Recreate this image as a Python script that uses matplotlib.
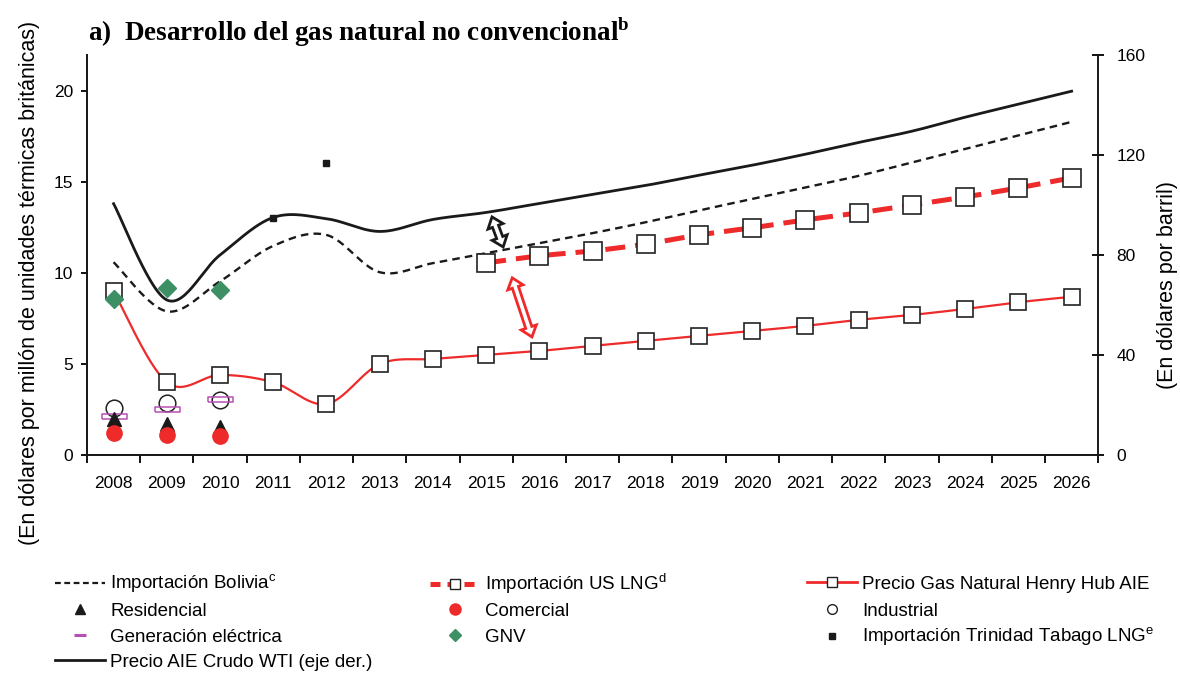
import numpy as np
import matplotlib
matplotlib.use('Agg')
import matplotlib.pyplot as plt
from matplotlib.lines import Line2D
from matplotlib.patches import Polygon
from matplotlib.transforms import IdentityTransform

plt.rcParams['font.family'] = ['Liberation Sans', 'DejaVu Sans']

years = list(range(2008, 2027))
henry_hub = [9.0, 4.0, 4.4, 4.0, 2.8, 5.0, 5.28, 5.5, 5.72, 6.0, 6.27, 6.55,
             6.82, 7.1, 7.43, 7.7, 8.03, 8.4, 8.7]
bolivia = [10.6, 7.9, 9.55, 11.5, 12.1, 10.05, 10.55, 11.1, 11.65, 12.2, 12.8,
           13.45, 14.08, 14.71, 15.35, 16.09, 16.83, 17.57, 18.32]
wti = [100.5, 62, 80, 95, 94.5, 89.4, 94.2, 97, 100.6, 104.2, 107.8, 111.9,
       115.9, 120.3, 125, 129.5, 135.1, 140.3, 145.5]   # eje derecho
lng_years = list(range(2015, 2027))
us_lng = [10.56, 10.95, 11.22, 11.6, 12.1, 12.49, 12.93, 13.31, 13.75, 14.19,
          14.69, 15.24]

sector_years = [2008, 2009, 2010]
residencial = [2.0, 1.7, 1.55]
comercial = [1.2, 1.1, 1.05]
industrial = [2.6, 2.85, 3.0]
generacion = [2.15, 2.5, 3.05]
gnv = [8.6, 9.2, 9.05]
trinidad_years = [2011, 2012]
trinidad = [13.05, 16.05]

RED = '#EE2A2A'
GREEN = '#3C9064'
MAGENTA = '#B94FB5'


def smooth(xs, ys, n=30):
    # curva suavizada tipo Excel (Catmull-Rom en forma Bezier)
    xs = np.asarray(xs, float)
    ys = np.asarray(ys, float)
    pts = np.column_stack([xs, ys])
    t = np.linspace(0, 1, n)[1:, None]
    out = [pts[0]]
    for i in range(len(pts) - 1):
        p0 = pts[max(i - 1, 0)]
        p1 = pts[i]
        p2 = pts[i + 1]
        p3 = pts[min(i + 2, len(pts) - 1)]
        c1 = p1 + (p2 - p0) / 6
        c2 = p2 - (p3 - p1) / 6
        seg = ((1 - t) ** 3) * p1 + 3 * ((1 - t) ** 2) * t * c1 + 3 * (1 - t) * t ** 2 * c2 + t ** 3 * p2
        out.extend(seg)
    out = np.array(out)
    return out[:, 0], out[:, 1]


def xpos(yrs):
    return np.array([years.index(y) for y in yrs])


fig = plt.figure(figsize=(11.8, 6.75), dpi=100)
ax = fig.add_axes([0.0737, 0.326, 0.857, 0.5926])
ax2 = ax.twinx()

idx = np.arange(len(years))

# Henry Hub
sx, sy = smooth(idx, henry_hub)
ax.plot(sx, sy, color=RED, lw=1.6, zorder=3)
ax.plot(idx, henry_hub, ls='none', marker='s', ms=11.5, mfc='white', mec='#222222',
        mew=1.2, zorder=4)

# Bolivia
sx, sy = smooth(idx, bolivia)
ax.plot(sx, sy, color='#1a1a1a', lw=1.7, dashes=(3.2, 2.2), zorder=3)

# US LNG
sx, sy = smooth(xpos(lng_years), us_lng)
ax.plot(sx, sy, color=RED, lw=3.6, dashes=(4, 2), zorder=3)
ax.plot(xpos(lng_years), us_lng, ls='none', marker='s', ms=12.5, mfc='white',
        mec='#222222', mew=1.2, zorder=4)

# WTI (eje der.)
sx, sy = smooth(idx, wti)
ax2.plot(sx, sy, color='#1a1a1a', lw=2.0, zorder=3)

# sectores
rect = [(-1, -0.2), (1, -0.2), (1, 0.2), (-1, 0.2), (-1, -0.2)]
sp = xpos(sector_years)
ax.plot(sp, industrial, ls='none', marker='o', ms=12, mfc='white', mec='#222222',
        mew=1.1, zorder=5)
ax.plot(sp, generacion, ls='none', marker=rect, ms=18, mfc='none', mec=MAGENTA,
        mew=1.1, zorder=6)
ax.plot(sp, residencial, ls='none', marker='^', ms=10, color='#1a1a1a', zorder=6)
ax.plot(sp, comercial, ls='none', marker='o', ms=11, color=RED, zorder=7)
ax.plot(sp, gnv, ls='none', marker='D', ms=9, color=GREEN, zorder=7)
ax.plot(xpos(trinidad_years), trinidad, ls='none', marker='s', ms=5,
        color='#1a1a1a', zorder=7)

# ejes
ax.set_xlim(-0.5, len(years) - 0.5)
ax.set_ylim(0, 22)
ax2.set_ylim(0, 160)
ax.set_yticks([0, 5, 10, 15, 20])
ax2.set_yticks([0, 40, 80, 120, 160])
ax.set_xticks(np.arange(-0.5, len(years), 1))
ax.set_xticklabels([])
ax.set_xticks(idx, minor=True)
ax.set_xticklabels([str(y) for y in years], minor=True)
ax.tick_params(axis='x', which='major', direction='out', length=6, width=1.3)
ax.tick_params(axis='x', which='minor', length=0, pad=15, labelsize=12.5)
ax.tick_params(axis='y', direction='out', length=4, width=1.3, pad=6, labelsize=12.5)
ax2.tick_params(axis='y', direction='inout', length=8, width=1.3, pad=9, labelsize=12.5)
for a in (ax, ax2):
    a.spines['top'].set_visible(False)
    for s in ('left', 'bottom', 'right'):
        a.spines[s].set_linewidth(1.4)
        a.spines[s].set_color('#1a1a1a')
ax.spines['right'].set_visible(False)

# flechas dobles huecas
def double_arrow(p_start, p_end, color):
    p0 = ax.transData.transform(p_start)
    p1 = ax.transData.transform(p_end)
    u = (p1 - p0) / np.hypot(*(p1 - p0))
    nrm = np.array([-u[1], u[0]])
    w, h, L = 3.2, 8.0, 10.0
    verts = [p0, p0 + u * L + nrm * h, p0 + u * L + nrm * w, p1 - u * L + nrm * w,
             p1 - u * L + nrm * h, p1, p1 - u * L - nrm * h, p1 - u * L - nrm * w,
             p0 + u * L - nrm * w, p0 + u * L - nrm * h]
    fig.patches.append(Polygon(verts, closed=True, facecolor='white', edgecolor=color,
                               lw=2.0, transform=IdentityTransform(), zorder=10))

double_arrow((7.11, 13.09), (7.32, 11.44), '#1a1a1a')
double_arrow((7.49, 9.74), (7.86, 6.49), RED)

# textos
fig.text(88 / 1180, 1 - 32 / 675, r'a)  Desarrollo del gas natural no convencional$^{\mathregular{b}}$',
         family='Liberation Serif', weight='bold', fontsize=19.5, va='center', ha='left')
fig.text(30 / 1180, 1 - 283 / 675, '(En dólares por millón de unidades térmicas británicas)',
         rotation=90, fontsize=15.5, ha='center', va='center')
fig.text(1168 / 1180, 1 - 285 / 675, '(En dólares por barril)', rotation=90,
         fontsize=15.5, ha='center', va='center')

# leyenda: cada entrada en su sitio (tres columnas)
entries = [
    (Line2D([], [], color='#1a1a1a', lw=1.6, dashes=(2.6, 1.6)),
     r'Importación Bolivia$^{\mathregular{c}}$', 55, 584),
    (Line2D([], [], ls='none', marker='^', ms=7, color='#1a1a1a'), 'Residencial', 55, 611),
    (Line2D([], [], ls='none', marker='_', ms=9, mew=2.2, color=MAGENTA),
     'Generación eléctrica', 55, 637),
    (Line2D([], [], color='#1a1a1a', lw=2.0), 'Precio AIE Crudo WTI (eje der.)', 55, 662),
    (Line2D([], [], color=RED, lw=3.6, dashes=(2, 1.4), marker='s', ms=7, mfc='white',
            mec='#222222', mew=1.0), r'Importación US LNG$^{\mathregular{d}}$', 430, 584),
    (Line2D([], [], ls='none', marker='o', ms=8, color=RED), 'Comercial', 430, 611),
    (Line2D([], [], ls='none', marker='D', ms=6, color=GREEN), 'GNV', 430, 637),
    (Line2D([], [], color=RED, lw=2.0, marker='s', ms=7, mfc='white', mec='#222222',
            mew=1.0), 'Precio Gas Natural Henry Hub AIE', 807, 584),
    (Line2D([], [], ls='none', marker='o', ms=7, mfc='white', mec='#222222', mew=1.0),
     'Industrial', 807, 611),
    (Line2D([], [], ls='none', marker='s', ms=4, color='#1a1a1a'),
     r'Importación Trinidad Tabago LNG$^{\mathregular{e}}$', 807, 637),
]
for h, lab, x0, y0 in entries:
    fig.legend([h], [lab], loc='center left', bbox_to_anchor=(x0 / 1180, 1 - y0 / 675),
               frameon=False, fontsize=13.5, handlelength=2.67, handletextpad=0.27,
               borderpad=0, borderaxespad=0, numpoints=1)

fig.savefig('out.png', dpi=100)
